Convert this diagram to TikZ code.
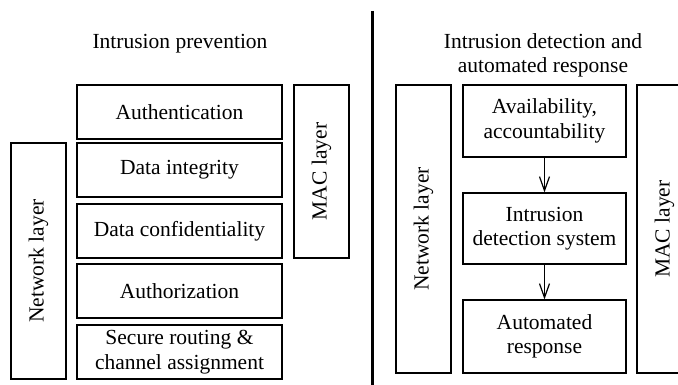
\documentclass[tikz,border=0pt]{standalone}
\usepackage{fontspec}
\setmainfont{Liberation Serif}
\usetikzlibrary{arrows.meta}
\begin{document}
\begin{tikzpicture}[x=1pt,y=-1pt,
  every node/.style={font=\fontsize{21.5}{24.5}\selectfont, inner sep=0pt, align=center},
  box/.style={draw, line width=1.2pt, minimum width=#1},
  vbox/.style={draw, line width=1.2pt, minimum width=55pt},
  arr/.style={line width=1.2pt, -{Straight Barb[length=14pt,width=10pt,line width=1.2pt]}}
]
\useasboundingbox (0,0) rectangle (678,385);
% left panel
\node (titleL) at (180,44) {Intrusion prevention};
\node[box=205pt, minimum height=54pt] (auth) at (179.5,112) {Authentication};
\node[box=205pt, minimum height=54pt] (integ) at (179.5,170) {Data integrity};
\node[box=205pt, minimum height=54pt] (conf) at (179.5,231) {Data confidentiality};
\node[box=205pt, minimum height=54pt] (authz) at (179.5,291) {Authorization};
\node[box=205pt, minimum height=54pt] (secure) at (179.5,352) {Secure routing \&\\channel assignment};
\node[vbox, minimum height=236pt] (netL) at (38.5,261) {};
\node[rotate=90] (netLt) at (netL.center) {Network layer};
\node[vbox, minimum height=173pt] (macL) at (321.5,171.5) {};
\node[rotate=90] (macLt) at (macL.center) {MAC layer};
% divider
\coordinate (dtop) at (372,11);
\coordinate (dbot) at (372,385);
\draw[line width=3pt] (dtop) -- (dbot);
% right panel
\node (titleR) at (543,55.5) {Intrusion detection and\\automated response};
\node[vbox, minimum height=288pt] (netR) at (423.5,229) {};
\node[rotate=90] (netRt) at (netR.center) {Network layer};
\node[box=163pt, minimum height=72pt] (avail) at (544.5,121) {Availability,\\accountability};
\node[box=163pt, minimum height=71pt] (ids) at (544.5,228.5) {Intrusion\\detection system};
\node[box=163pt, minimum height=73pt] (resp) at (544.5,336.5) {Automated\\response};
\node[vbox, minimum height=288pt] (macR) at (664.5,229) {};
\node[rotate=90] (macRt) at (macR.center) {MAC layer};
\draw[arr] (avail) -- (ids);
\draw[arr] (ids) -- (resp);
\end{tikzpicture}
\end{document}
